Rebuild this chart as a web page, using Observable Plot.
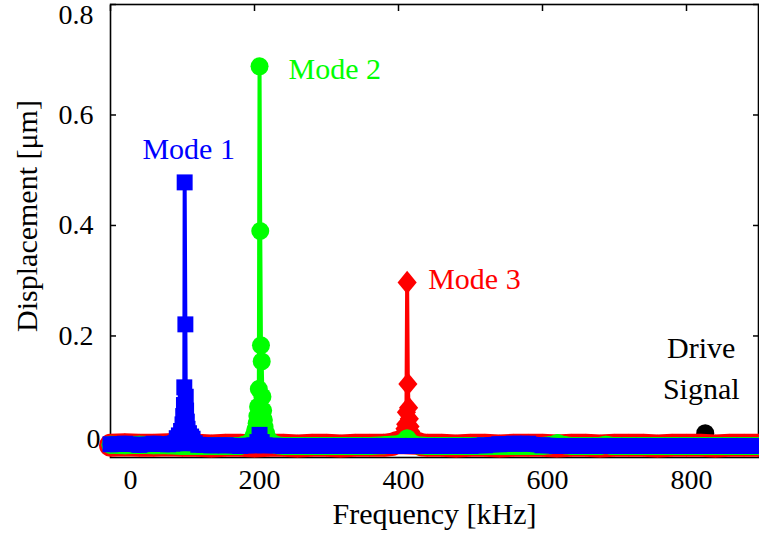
<!DOCTYPE html>
<html>
<head>
<meta charset="utf-8">
<script src="https://cdn.jsdelivr.net/npm/d3@7"></script>
<script src="https://cdn.jsdelivr.net/npm/@observablehq/plot@0.6"></script>
<style>
  html, body { margin: 0; padding: 0; background: #fff; }
  svg { display: block; }
  svg text { font-family: "Liberation Serif", serif; }
</style>
</head>
<body>
<div id="chart"></div>
<script>
// ---------- data ----------
const xTicks = [0, 200, 400, 600, 800];
const xTickLabels = ["0", "200", "400", "600", "800"];
const yTicks = [0, 0.2, 0.4, 0.6, 0.8];
const yTickLabels = ["0", "0.2", "0.4", "0.6", "0.8"];

const xTitle = "Frequency [kHz]";
const yTitle = "Displacement [μm]";
const modeNames = ["Mode 1", "Mode 2", "Mode 3"];
const driveName = "Drive\nSignal";

// Mode 3 (red, diamonds)
const redFreq = [0,20,40,60,80,100,120,140,160,180,200,220,240,260,280,300,320,340,360,380,
  392,398,402,405,407,408,409,410,411,412,413,414,415,416,417,419,422,426,432,
  440,460,480,500,520,540,560,580,600,620,640,660,680,700,720,740,760,780,800,820,840,860,880,900];
const redVal = [0.002,0.003,0.002,0.002,0.003,0.002,0.002,0.001,0.002,0.002,0.001,0.002,0.002,0.001,0.002,0.002,0.001,0.002,0.002,0.002,
  0.004,0.007,0.010,0.014,0.019,0.025,0.032,0.040,0.062,0.297,0.113,0.070,0.050,0.036,0.027,0.018,0.011,0.006,0.003,
  0.002,0.002,0.001,0.002,0.002,0.001,0.002,0.002,0.002,0.001,0.002,0.002,0.001,0.002,0.002,0.002,0.001,0.002,0.002,0.002,0.001,0.002,0.002,0.002];

// Mode 2 (green, circles)
const greenFreq = [0,20,40,60,80,100,120,140,160,180,
  186,192,196,199,201,203,204,205,206,207,208,209,210,211,212,213,214,216,218,221,226,232,
  240,260,280,300,320,340,360,380,400,406,410,412,414,418,425,
  440,460,480,500,520,540,560,580,600,610,617,621,625,632,640,660,680,688,696,700,720,740,760,780,800,820,840,860,880,900];
const greenVal = [0.003,0.002,0.003,0.002,0.002,0.001,0.001,0.001,0.001,0.001,
  0.003,0.006,0.012,0.020,0.030,0.042,0.055,0.072,0.104,0.688,0.390,0.183,0.154,0.090,0.065,0.048,0.035,0.024,0.016,0.010,0.005,0.002,
  0.001,0.001,0.001,0.001,0.001,0.001,0.001,0.002,0.004,0.007,0.011,0.015,0.011,0.006,0.002,
  0.001,0.001,0.001,0.001,0.001,0.001,0.001,0.001,0.001,0.002,0.004,0.006,0.004,0.002,0.001,0.001,0.001,0.003,0.001,0.001,0.001,0.001,0.001,0.001,0.001,0.001,0.001,0.001,0.001,0.001];

// Mode 1 (blue, squares)
const blueFreq = [0,20,40,60,80,86,90,92,95,98,100,101,102,102.5,103,104,104.5,105,106,107,109,112,114,117,122,
  140,160,180,200,204,207,210,214,240,260,280,300,320,340,360,380,400,420,440,460,480,500,520,
  540,560,580,600,620,640,660,680,700,720,740,760,780,800,820,840,860,880,900];
const blueVal = [0.004,0.005,0.003,0.005,0.004,0.005,0.006,0.015,0.020,0.028,0.040,0.055,0.075,0.107,0.478,0.221,0.090,0.065,0.045,0.032,0.024,0.018,0.014,0.006,0.003,
  0.002,0.002,0.001,0.002,0.008,0.021,0.008,0.002,0.001,0.001,0.001,0.001,0.001,0.001,0.001,0.001,0.001,0.001,0.001,0.001,0.001,0.001,0.002,
  0.004,0.005,0.005,0.002,0.001,0.001,0.001,0.001,0.001,0.001,0.001,0.001,0.001,0.001,0.001,0.001,0.001,0.001,0.001];

// Drive signal (black)
const driveFreq = [826];
const driveVal = [0.024];

// ---------- build tables ----------
const zip = (f, v) => f.map((x, i) => ({f: x, v: v[i]}));
const red = zip(redFreq, redVal);
const green = zip(greenFreq, greenVal);
const blue = zip(blueFreq, blueVal);
const drive = zip(driveFreq, driveVal);

const BLUE = "#0000ff", GREEN = "#00ff00", RED = "#ff0000";
const FF = "Liberation Serif";
const TICK = 28, FONT = 30;

const diamond = {
  draw(ctx, size) {
    const s = Math.sqrt(size), h = s * 0.65, w = s * 0.54;
    ctx.moveTo(0, -h); ctx.lineTo(w, 0); ctx.lineTo(0, h); ctx.lineTo(-w, 0); ctx.closePath();
  }
};

function series(data, color, symbol, r, band) {
  return [
    Plot.line(data, {x: "f", y: "v", filter: d => d.v < 0.01, stroke: color, strokeWidth: band}),
    Plot.line(data, {x: "f", y: "v", stroke: color, strokeWidth: 4}),
    Plot.dot(data, {x: "f", y: "v", symbol, r, fill: color, stroke: null})
  ];
}

const peakOf = s => d3.greatest(s, d => d.v);
const p1 = peakOf(blue), p2 = peakOf(green), p3 = peakOf(red);
const ylab = d => yTickLabels[yTicks.indexOf(d)];
const xlab = d => xTickLabels[xTicks.indexOf(d)];

const tickOnly = {fill: "none", stroke: "#000", strokeWidth: 1.5, label: null};
const textOnly = {tickSize: 0, label: null, fontSize: TICK, fontFamily: FF, fill: "#000"};

const chart = Plot.plot({
  width: 759,
  height: 537,
  marginLeft: 110,
  marginRight: 1,
  marginTop: 4,
  marginBottom: 80,
  style: {fontFamily: FF, background: "#fff", color: "#000"},
  x: {domain: [0, 900], axis: null},
  y: {domain: [-0.02, 0.8], axis: null},
  marks: [
    Plot.frame({stroke: "#000", strokeWidth: 1.6}),
    Plot.axisX(xTicks, {anchor: "top", tickSize: -6, ...tickOnly}),
    Plot.axisY(yTicks, {anchor: "left", tickSize: -6, ...tickOnly}),
    Plot.axisY(yTicks, {anchor: "right", tickSize: -6, ...tickOnly}),
    Plot.axisX(xTicks.filter(d => d === 0), {anchor: "bottom", tickPadding: 12, dx: 20, tickFormat: xlab, ...textOnly}),
    Plot.axisX(xTicks.filter(d => d !== 0), {anchor: "bottom", tickPadding: 12, dx: 5, tickFormat: xlab, ...textOnly}),
    Plot.axisY(yTicks.filter(d => d > 0 && d < 0.8), {anchor: "left", tickPadding: 17, tickFormat: ylab, ...textOnly}),
    Plot.axisY(yTicks.filter(d => d === 0.8), {anchor: "left", tickPadding: 17, dy: 11, tickFormat: ylab, ...textOnly}),
    Plot.axisY(yTicks.filter(d => d === 0), {anchor: "left", tickPadding: 10, dy: -7, tickFormat: ylab, ...textOnly}),
    Plot.text([xTitle], {frameAnchor: "bottom", dy: 66, fontSize: FONT, fontFamily: FF, fill: "#000"}),
    Plot.text([yTitle], {frameAnchor: "left", textAnchor: "middle", rotate: -90, dx: -83, dy: -15, fontSize: FONT, fontFamily: FF, fill: "#000"}),

    Plot.dot(drive, {x: "f", y: "v", r: 9, fill: "#000", stroke: null}),
    ...series(red, RED, diamond, 10, 23),
    ...series(green, GREEN, "circle", 9, 18),
    ...series(blue, BLUE, "square", 9, 16),

    Plot.text([p1], {x: "f", y: "v", text: () => modeNames[0], fill: BLUE, fontSize: FONT, fontFamily: FF, dx: 4, dy: -33}),
    Plot.text([p2], {x: "f", y: "v", text: () => modeNames[1], fill: GREEN, fontSize: FONT, fontFamily: FF, textAnchor: "start", dx: 29, dy: 3}),
    Plot.text([p3], {x: "f", y: "v", text: () => modeNames[2], fill: RED, fontSize: FONT, fontFamily: FF, textAnchor: "start", dx: 21, dy: -3}),
    Plot.text(drive, {x: "f", y: "v", text: () => driveName, fill: "#000", fontSize: FONT, fontFamily: FF, lineHeight: 1.38, dx: -4, dy: -68})
  ]
});

document.getElementById("chart").appendChild(chart);
</script>
</body>
</html>
